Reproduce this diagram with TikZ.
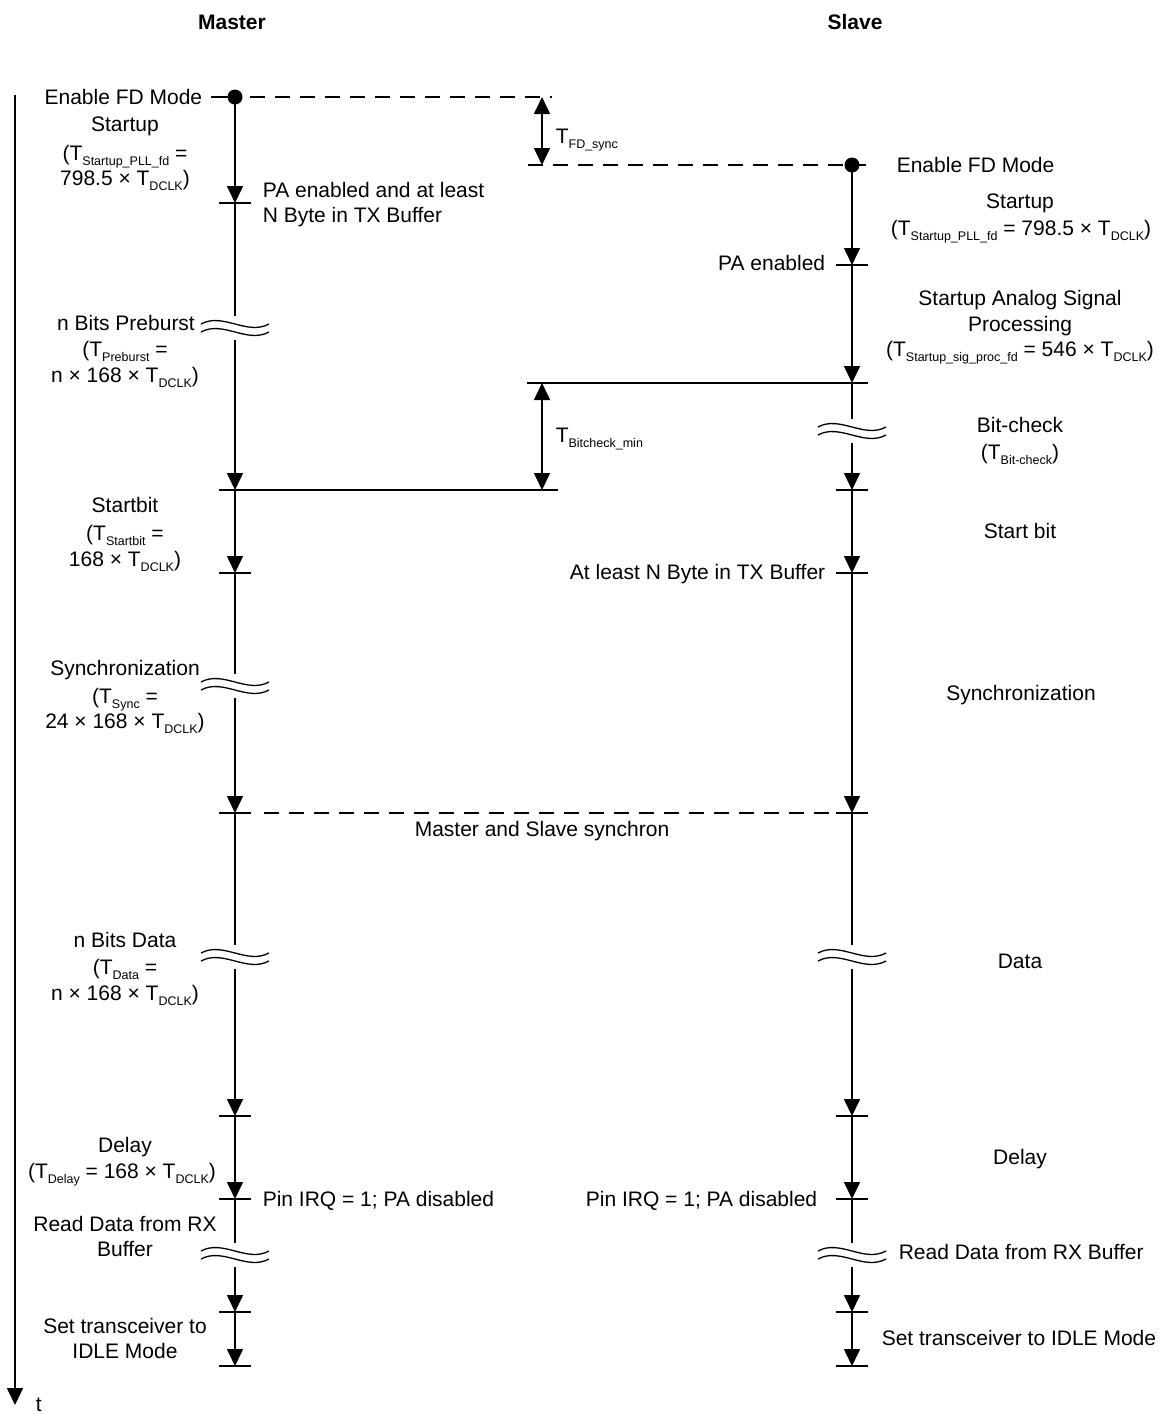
\documentclass[tikz,border=0pt]{standalone}
\usepackage{fontspec}
\setmainfont{Liberation Sans}
\usetikzlibrary{arrows.meta}
\newcommand{\sbs}[1]{\raisebox{-5.5pt}{\fontsize{12.5}{13}\selectfont #1}}
\begin{document}
\begin{tikzpicture}[x=1pt,y=-1pt,line width=1.6pt,
  tx/.style={font=\fontsize{21}{25}\selectfont,inner sep=0pt,anchor=base},
  hd/.style={font=\fontsize{21}{25}\selectfont\bfseries,inner sep=0pt,anchor=base},
  seg/.style={-{Triangle[width=16pt,length=17pt]}},
  dim/.style={{Triangle[width=16pt,length=17pt]}-{Triangle[width=16pt,length=17pt]}},
  dsh/.style={dash pattern=on 15pt off 10pt},
  tk/.pic={\draw (-16,0) -- (16,0);},
  brk/.pic={\draw[line width=1.3pt] (-34,-4) .. controls (-12,-16) and (12,8) .. (34,-4);
            \draw[line width=1.3pt] (-34,4) .. controls (-12,-8) and (12,16) .. (34,4);}
]
\useasboundingbox (0,0) rectangle (1168,1414);

% headers
\node[hd] (hM) at (232,29) {Master};
\node[hd] (hS) at (855,29) {Slave};

% time axis
\coordinate (ta) at (15,95);
\coordinate (tb) at (15,1405);
\draw[seg] (ta) -- (tb);
\node[tx,anchor=base west] (tt) at (35,1411) {t};

% ---------------- master coordinates
\coordinate (m0) at (235,97);
\coordinate (m1) at (235,203);
\coordinate (mb1a) at (235,316);
\coordinate (mb1) at (235,328);
\coordinate (mb1b) at (235,340);
\coordinate (m2) at (235,490);
\coordinate (m3) at (235,573);
\coordinate (mb2a) at (235,674);
\coordinate (mb2) at (235,686);
\coordinate (mb2b) at (235,698);
\coordinate (m4) at (235,813);
\coordinate (mb3a) at (235,945);
\coordinate (mb3) at (235,957);
\coordinate (mb3b) at (235,969);
\coordinate (m5) at (235,1116);
\coordinate (m6) at (235,1199);
\coordinate (mb4a) at (235,1243);
\coordinate (mb4) at (235,1255);
\coordinate (mb4b) at (235,1267);
\coordinate (m7) at (235,1312);
\coordinate (m8) at (235,1366);

% ---------------- slave coordinates
\coordinate (s0) at (852,165);
\coordinate (s1) at (852,265);
\coordinate (s2) at (852,383);
\coordinate (sb1a) at (852,419);
\coordinate (sb1) at (852,431);
\coordinate (sb1b) at (852,443);
\coordinate (s3) at (852,490);
\coordinate (s4) at (852,573);
\coordinate (s5) at (852,813);
\coordinate (sb2a) at (852,945);
\coordinate (sb2) at (852,957);
\coordinate (sb2b) at (852,969);
\coordinate (s6) at (852,1116);
\coordinate (s7) at (852,1199);
\coordinate (sb3a) at (852,1243);
\coordinate (sb3) at (852,1255);
\coordinate (sb3b) at (852,1267);
\coordinate (s8) at (852,1312);
\coordinate (s9) at (852,1366);

% ---------------- master line
\draw[seg] (m0) -- (m1);
\draw (m1) -- (mb1a);
\draw[seg] (mb1b) -- (m2);
\draw[seg] (m2) -- (m3);
\draw (m3) -- (mb2a);
\draw[seg] (mb2b) -- (m4);
\draw (m4) -- (mb3a);
\draw[seg] (mb3b) -- (m5);
\draw[seg] (m5) -- (m6);
\draw (m6) -- (mb4a);
\draw[seg] (mb4b) -- (m7);
\draw[seg] (m7) -- (m8);
\foreach \c in {m1,m3,m4,m5,m6,m7,m8} {\pic at (\c) {tk};}
\foreach \c in {mb1,mb2,mb3,mb4} {\pic at (\c) {brk};}

% ---------------- slave line
\draw[seg] (s0) -- (s1);
\draw[seg] (s1) -- (s2);
\draw (s2) -- (sb1a);
\draw[seg] (sb1b) -- (s3);
\draw[seg] (s3) -- (s4);
\draw[seg] (s4) -- (s5);
\draw (s5) -- (sb2a);
\draw[seg] (sb2b) -- (s6);
\draw[seg] (s6) -- (s7);
\draw (s7) -- (sb3a);
\draw[seg] (sb3b) -- (s8);
\draw[seg] (s8) -- (s9);
\foreach \c in {s1,s3,s4,s5,s6,s7,s8,s9} {\pic at (\c) {tk};}
\foreach \c in {sb1,sb2,sb3} {\pic at (\c) {brk};}

% ---------------- enable dots and sync lines
\coordinate (mEl) at (211,97);
\coordinate (sEr) at (866,165);
\draw (mEl) -- (m0);
\draw (s0) -- (sEr);
\fill (m0) circle (7.5);
\fill (s0) circle (7.5);

\coordinate (fdA) at (250,97);
\coordinate (fdB) at (552,97);
\coordinate (fdC) at (528,165);
\coordinate (fdU) at (542,97);
\coordinate (fdD) at (542,165);
\draw[dsh] (fdA) -- (fdB);
\draw[dsh] (fdC) -- (s0);
\draw[dim] (fdU) -- (fdD);

\coordinate (bcL) at (219,490);
\coordinate (bcR) at (558,490);
\coordinate (bcT) at (527,383);
\coordinate (bcTR) at (868,383);
\coordinate (bcU) at (542,383);
\coordinate (bcD) at (542,490);
\draw (bcL) -- (bcR);
\draw (bcT) -- (bcTR);
\draw[dim] (bcU) -- (bcD);

\coordinate (syA) at (264,813);
\coordinate (syB) at (868,813);
\draw[dsh] (syA) -- (syB);

% ---------------- dimension labels
\node[tx,anchor=base west] (lfd) at (555,143) {T\sbs{FD\_sync}};
\node[tx,anchor=base west] (lbc) at (555,442) {T\sbs{Bitcheck\_min}};
\node[tx] (lsy) at (542,836) {Master and Slave synchron};

% ---------------- master labels
\node[tx,anchor=base east] (mL0) at (203,104) {Enable FD Mode};
\node[tx] (mL1) at (125,131) {Startup};
\node[tx] (mL2) at (125,160) {(T\sbs{Startup\_PLL\_fd} =};
\node[tx] (mL3) at (125,185) {798.5 × T\sbs{DCLK})};
\node[tx,anchor=base west] (mL4) at (262,197) {PA enabled and at least};
\node[tx,anchor=base west] (mL5) at (262,222) {N Byte in TX Buffer};
\node[tx] (mL6) at (126,330) {n Bits Preburst};
\node[tx] (mL7) at (125,356) {(T\sbs{Preburst} =};
\node[tx] (mL8) at (125,382) {n × 168 × T\sbs{DCLK})};
\node[tx] (mL9) at (125,512) {Startbit};
\node[tx] (mL10) at (125,540) {(T\sbs{Startbit} =};
\node[tx] (mL11) at (125,566) {168 × T\sbs{DCLK})};
\node[tx] (mL12) at (125,675) {Synchronization};
\node[tx] (mL13) at (125,703) {(T\sbs{Sync} =};
\node[tx] (mL14) at (125,728) {24 × 168 × T\sbs{DCLK})};
\node[tx] (mL15) at (125,947) {n Bits Data};
\node[tx] (mL16) at (125,974) {(T\sbs{Data} =};
\node[tx] (mL17) at (125,1000) {n × 168 × T\sbs{DCLK})};
\node[tx] (mL18) at (125,1152) {Delay};
\node[tx] (mL19) at (122,1178) {(T\sbs{Delay} = 168 × T\sbs{DCLK})};
\node[tx,anchor=base west] (mL20) at (262,1206) {Pin IRQ = 1; PA disabled};
\node[tx] (mL21) at (125,1231) {Read Data from RX};
\node[tx] (mL22) at (125,1256) {Buffer};
\node[tx] (mL23) at (125,1333) {Set transceiver to};
\node[tx] (mL24) at (125,1358) {IDLE Mode};

% ---------------- slave labels
\node[tx,anchor=base west] (sL0) at (896,172) {Enable FD Mode};
\node[tx] (sL1) at (1020,208) {Startup};
\node[tx] (sL2) at (1021,235) {(T\sbs{Startup\_PLL\_fd} = 798.5 × T\sbs{DCLK})};
\node[tx,anchor=base east] (sL3) at (826,270) {PA enabled};
\node[tx] (sL4) at (1020,305) {Startup Analog Signal};
\node[tx] (sL5) at (1020,331) {Processing};
\node[tx] (sL6) at (1020,356) {(T\sbs{Startup\_sig\_proc\_fd} = 546 × T\sbs{DCLK})};
\node[tx] (sL7) at (1020,432) {Bit-check};
\node[tx] (sL8) at (1020,459) {(T\sbs{Bit-check})};
\node[tx] (sL9) at (1020,538) {Start bit};
\node[tx,anchor=base east] (sL10) at (826,579) {At least N Byte in TX Buffer};
\node[tx] (sL11) at (1021,700) {Synchronization};
\node[tx] (sL12) at (1020,968) {Data};
\node[tx] (sL13) at (1020,1164) {Delay};
\node[tx,anchor=base east] (sL14) at (818,1206) {Pin IRQ = 1; PA disabled};
\node[tx,anchor=base west] (sL15) at (898,1259) {Read Data from RX Buffer};
\node[tx,anchor=base west] (sL16) at (881,1345) {Set transceiver to IDLE Mode};
\end{tikzpicture}
\end{document}
